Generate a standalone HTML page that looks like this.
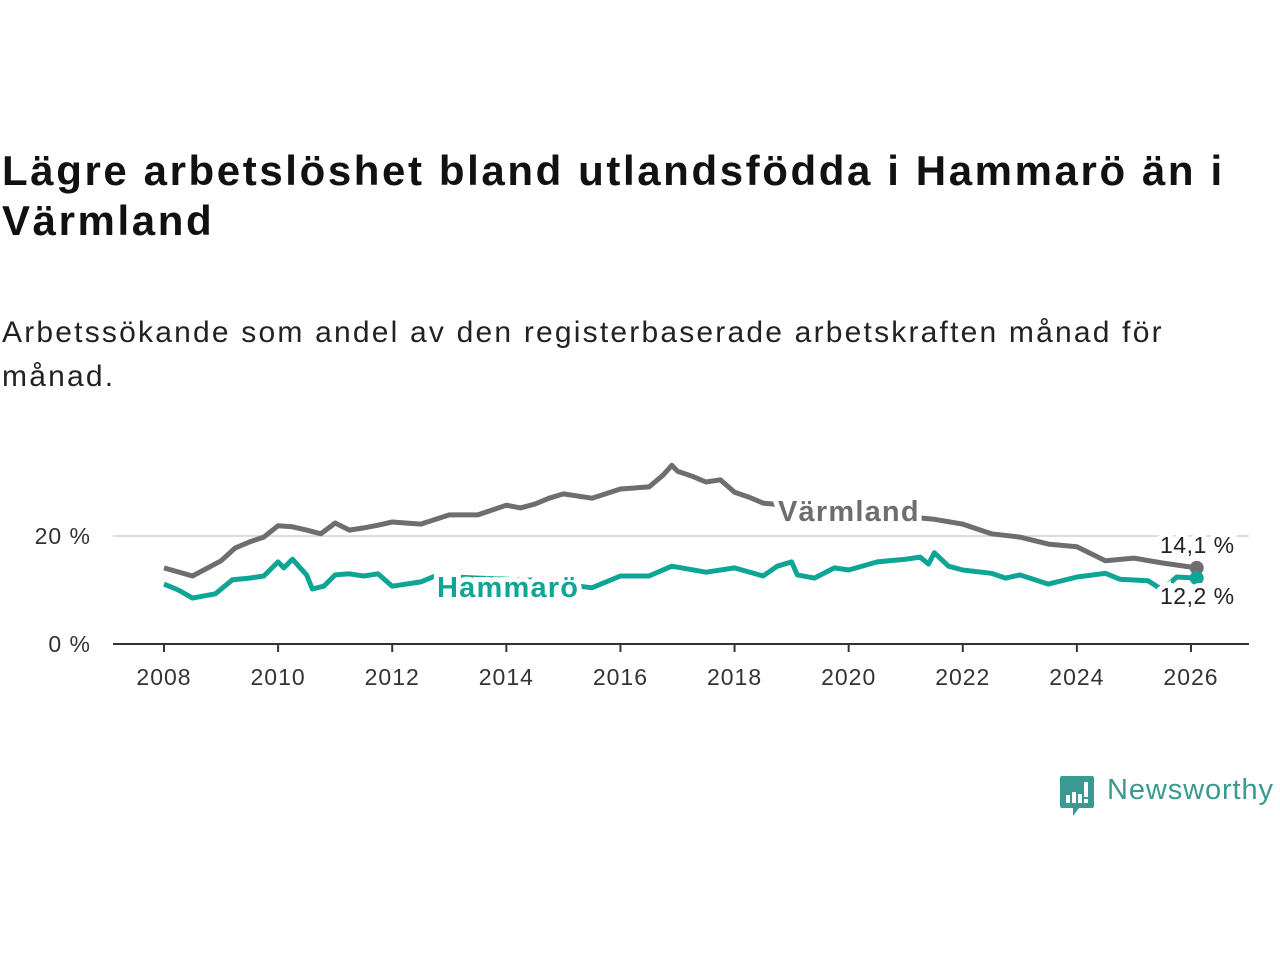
<!DOCTYPE html>
<html><head><meta charset="utf-8"><style>
body{margin:0;width:1280px;height:960px;background:#fff;font-family:"Liberation Sans",sans-serif;overflow:hidden;position:relative}
h1{position:absolute;left:2px;top:146px;margin:0;font-size:42px;line-height:50px;font-weight:bold;color:#111;width:1278px;letter-spacing:2.6px;white-space:nowrap}
.sub{position:absolute;left:2px;top:311px;font-size:30px;line-height:44px;color:#222;width:1278px;letter-spacing:2.2px;white-space:nowrap}
</style></head><body>
<h1>Lägre arbetslöshet bland utlandsfödda i Hammarö än i<br>Värmland</h1>
<div class="sub">Arbetssökande som andel av den registerbaserade arbetskraften månad för<br>månad.</div>
<svg id="chart" width="1280" height="960" style="position:absolute;left:0;top:0" xmlns="http://www.w3.org/2000/svg"></svg>
<div style="position:absolute;left:1059px;top:774px;">
<svg width="36" height="44" viewBox="0 0 36 44"><path d="M3 2h30a2 2 0 0 1 2 2v28a2 2 0 0 1-2 2H20l-6 8v-8H3a2 2 0 0 1-2-2V4a2 2 0 0 1 2-2z" fill="#3a9a92"/><rect x="7" y="21" width="4" height="8" fill="#fff"/><rect x="13" y="18" width="4" height="11" fill="#fff"/><rect x="19" y="20" width="4" height="9" fill="#fff"/><rect x="25" y="8" width="4" height="15" fill="#fff"/><rect x="25" y="25" width="4" height="4" fill="#fff"/></svg>
<span style="position:absolute;left:48px;top:0;font-size:29px;color:#3a9a92;white-space:nowrap;letter-spacing:0.9px">Newsworthy</span>
</div>
<script>
const yTicks=[0,20];
const yTickLabels=["0 %","20 %"];
const xTicks=[2008,2010,2012,2014,2016,2018,2020,2022,2024,2026];
const varmlandT=[2008,2008.5,2009,2009.25,2009.5,2009.75,2010,2010.25,2010.5,2010.75,2011,2011.25,2011.5,2011.75,2012,2012.5,2013,2013.5,2014,2014.25,2014.5,2014.75,2015,2015.5,2016,2016.5,2016.75,2016.9,2017,2017.25,2017.5,2017.75,2018,2018.25,2018.5,2019,2019.5,2020,2020.5,2021,2021.5,2022,2022.5,2023,2023.5,2024,2024.5,2025,2025.5,2026.1];
const varmlandV=[14.1,12.6,15.4,17.8,18.9,19.8,21.9,21.7,21.1,20.4,22.4,21.1,21.5,22.0,22.6,22.2,23.9,23.9,25.7,25.2,25.9,27.0,27.8,27.0,28.7,29.1,31.3,33.1,32.0,31.1,30.0,30.4,28.1,27.2,26.1,25.6,25.0,24.6,24.0,23.6,23.1,22.2,20.4,19.8,18.5,18.0,15.4,15.9,15.0,14.1];
const hammaroT=[2008,2008.25,2008.5,2008.9,2009.2,2009.5,2009.75,2010,2010.1,2010.25,2010.5,2010.6,2010.8,2011,2011.25,2011.5,2011.75,2012,2012.5,2012.75,2013.5,2014.5,2015.5,2016,2016.5,2016.9,2017.5,2018,2018.5,2018.75,2019,2019.1,2019.4,2019.75,2020,2020.5,2021,2021.25,2021.4,2021.5,2021.75,2022,2022.5,2022.75,2023,2023.5,2024,2024.5,2024.75,2025.25,2025.5,2025.75,2026.1];
const hammaroV=[11.1,10.0,8.5,9.3,11.9,12.2,12.6,15.2,14.1,15.7,12.8,10.2,10.7,12.8,13.0,12.6,13.0,10.7,11.5,12.6,12.2,11.8,10.4,12.6,12.6,14.4,13.3,14.1,12.6,14.4,15.2,12.8,12.2,14.1,13.7,15.2,15.7,16.1,14.8,16.9,14.4,13.7,13.1,12.2,12.8,11.1,12.4,13.1,12.0,11.7,10.0,12.4,12.2];
const svg=document.getElementById('chart');
const NS='http://www.w3.org/2000/svg';
const X=t=>164+(t-2008)*(1191-164)/18;
const Y=v=>644-v*5.4;
function mk(tag,a){const e=document.createElementNS(NS,tag);for(const k in a)e.setAttribute(k,a[k]);svg.appendChild(e);return e;}
yTicks.forEach((v,i)=>{
  if(v>0){const g=mk('line',{x1:113,x2:1249,y1:Y(v),y2:Y(v),stroke:'#ddd','stroke-width':2});
  
  }
  const t=mk('text',{x:91,y:Y(v)+8,'text-anchor':'end','font-size':23,fill:'#333','font-family':'Liberation Sans, sans-serif','letter-spacing':1});
  t.textContent=yTickLabels[i];
  
  
});
const ax=mk('line',{x1:113,x2:1249,y1:644,y2:644,stroke:'#333','stroke-width':2});


xTicks.forEach(yr=>{
  const tk=mk('line',{x1:X(yr),x2:X(yr),y1:644,y2:652,stroke:'#333','stroke-width':2});
  
  
  const t=mk('text',{x:X(yr),y:685,'text-anchor':'middle','font-size':23,fill:'#333','font-family':'Liberation Sans, sans-serif','letter-spacing':1});
  t.textContent=yr;
  
  
});
function line(T,V,col,name){
  const d=T.map((t,i)=>(i?'L':'M')+X(t).toFixed(1)+' '+Y(V[i]).toFixed(1)).join(' ');
  const p=mk('path',{d:d,fill:'none',stroke:col,'stroke-width':5,'stroke-linejoin':'round'});
  
  
  const n=T.length-1;
  const c=mk('circle',{cx:X(T[n]),cy:Y(V[n]),r:7,fill:col});
  
  
}
line(varmlandT,varmlandV,'#6e6d72','varmland');
line(hammaroT,hammaroV,'#0fa596','hammaro');
function label(txt,x,y,col,name,size,weight,ls){
  const t=mk('text',{x:x,y:y,'font-size':size,'font-weight':weight,fill:col,stroke:'#fff','stroke-width':10,'paint-order':'stroke','font-family':'Liberation Sans, sans-serif','letter-spacing':ls});
  t.textContent=txt;
  
  
}
label('Värmland',778,521,'#6e6d72','varmland-label',29,'bold',1.2);
label('Hammarö',437,597,'#0fa596','hammaro-label',29,'bold',1.2);
const nv=varmlandV.length-1, nh=hammaroV.length-1;
label(varmlandV[nv].toFixed(1).replace('.',',')+' %',1160,553,'#222','varmland-last-value',23,'normal',0.5);
label(hammaroV[nh].toFixed(1).replace('.',',')+' %',1160,604,'#222','hammaro-last-value',23,'normal',0.5);
</script>
</body></html>
